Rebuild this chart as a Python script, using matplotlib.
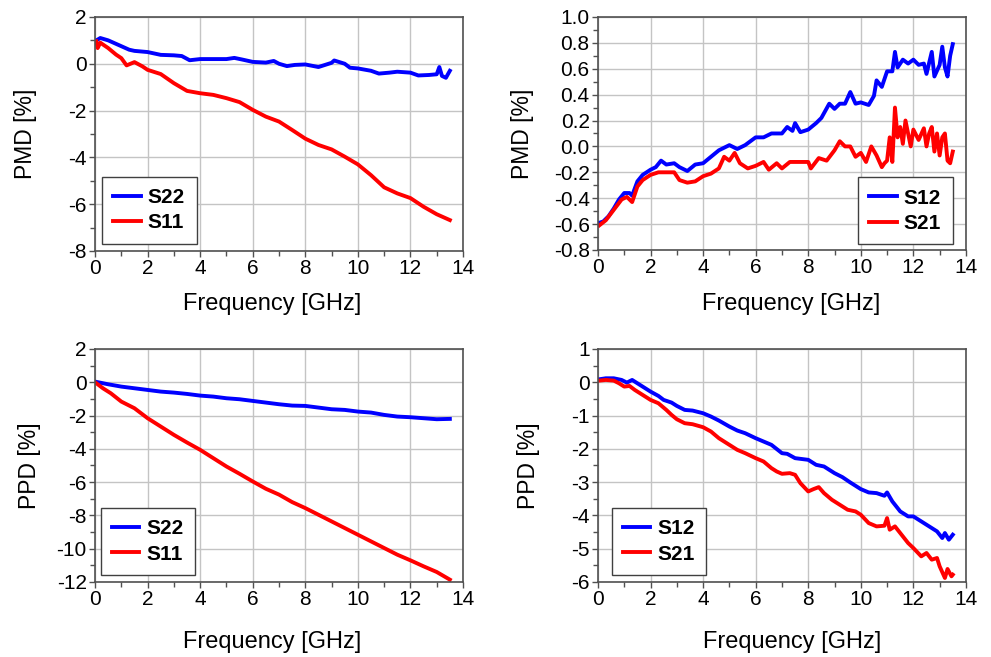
import matplotlib
matplotlib.use("Agg")
import matplotlib.pyplot as plt
from matplotlib.ticker import MultipleLocator, FormatStrFormatter

plt.rcParams["font.family"] = ["Liberation Sans", "DejaVu Sans"]
plt.rcParams["axes.unicode_minus"] = False

# ---------------- data ----------------
# top-left: PMD, S22 / S11
pmd_s22_f = [0.05, 0.2, 0.5, 1.0, 1.3, 1.5, 2.0, 2.5, 3.0, 3.3, 3.6, 4.0, 4.5, 5.0,
             5.3, 5.6, 6.0, 6.5, 6.8, 7.0, 7.3, 7.6, 8.0, 8.5, 9.0, 9.1, 9.5, 9.7,
             10.0, 10.5, 10.8, 11.2, 11.5, 12.0, 12.3, 12.7, 13.0, 13.1, 13.2, 13.35, 13.5]
pmd_s22 = [1.0, 1.1, 1.0, 0.75, 0.6, 0.55, 0.5, 0.38, 0.36, 0.33, 0.15, 0.2, 0.2, 0.2,
           0.25, 0.18, 0.08, 0.05, 0.12, 0.0, -0.1, -0.05, -0.03, -0.14, 0.04, 0.14, 0.0, -0.17,
           -0.2, -0.3, -0.42, -0.38, -0.34, -0.38, -0.5, -0.48, -0.45, -0.14, -0.52, -0.6, -0.3]
pmd_s11_f = [0.05, 0.1, 0.2, 0.5, 0.8, 1.0, 1.2, 1.5, 1.8, 2.0, 2.5, 3.0, 3.5, 4.0,
             4.5, 5.0, 5.5, 6.0, 6.5, 7.0, 7.5, 8.0, 8.5, 9.0, 9.5, 10.0, 10.5, 11.0,
             11.5, 12.0, 12.5, 13.0, 13.5]
pmd_s11 = [0.96, 0.67, 0.9, 0.67, 0.39, 0.24, -0.07, 0.07, -0.11, -0.26, -0.44, -0.83, -1.16, -1.26,
           -1.33, -1.47, -1.64, -1.97, -2.26, -2.47, -2.83, -3.2, -3.47, -3.66, -3.97, -4.3, -4.76, -5.28,
           -5.54, -5.74, -6.11, -6.43, -6.68]

# top-right: PMD, S12 / S21
pmd_s12_f = [0.05, 0.2, 0.4, 0.6, 0.8, 1.0, 1.2, 1.3, 1.5, 1.7, 2.0, 2.2, 2.4, 2.6, 2.9,
             3.1, 3.4, 3.7, 4.0, 4.3, 4.6, 5.0, 5.3, 5.6, 6.0, 6.3, 6.6, 7.0, 7.2, 7.4,
             7.5, 7.7, 8.0, 8.3, 8.5, 8.8, 9.0, 9.2, 9.4, 9.6, 9.8, 10.0, 10.3, 10.5, 10.6,
             10.8, 11.0, 11.2, 11.3, 11.4, 11.6, 11.8, 12.0, 12.2, 12.4, 12.5, 12.7, 12.8,
             13.0, 13.1, 13.2, 13.3, 13.4, 13.5]
pmd_s12 = [-0.59, -0.58, -0.54, -0.48, -0.41, -0.36, -0.36, -0.38, -0.27, -0.22, -0.18, -0.16, -0.11, -0.14, -0.13,
           -0.16, -0.19, -0.14, -0.13, -0.08, -0.03, 0.01, -0.02, 0.01, 0.07, 0.07, 0.1, 0.1, 0.15, 0.12,
           0.18, 0.11, 0.13, 0.18, 0.22, 0.33, 0.29, 0.33, 0.33, 0.42, 0.33, 0.34, 0.32, 0.39, 0.51,
           0.46, 0.58, 0.58, 0.73, 0.61, 0.67, 0.64, 0.67, 0.63, 0.64, 0.56, 0.73, 0.54,
           0.63, 0.77, 0.61, 0.54, 0.7, 0.79]
pmd_s21_f = [0.05, 0.3, 0.6, 0.9, 1.1, 1.3, 1.5, 1.7, 2.0, 2.3, 2.6, 2.9, 3.1, 3.4, 3.7,
             4.0, 4.3, 4.6, 4.8, 5.0, 5.2, 5.4, 5.7, 6.0, 6.3, 6.5, 6.8, 7.0, 7.3, 7.6,
             8.0, 8.1, 8.4, 8.7, 9.0, 9.2, 9.4, 9.6, 9.8, 10.0, 10.2, 10.4, 10.6, 10.8,
             10.9, 11.0, 11.1, 11.2, 11.3, 11.4, 11.5, 11.6, 11.7, 11.9, 12.0, 12.2, 12.4,
             12.5, 12.6, 12.7, 12.8, 12.9, 13.0, 13.1, 13.2, 13.3, 13.4, 13.5]
pmd_s21 = [-0.61, -0.57, -0.49, -0.41, -0.39, -0.43, -0.31, -0.26, -0.22, -0.2, -0.2, -0.2, -0.26, -0.28, -0.27,
           -0.23, -0.21, -0.17, -0.08, -0.11, -0.05, -0.13, -0.17, -0.15, -0.12, -0.18, -0.13, -0.17, -0.12, -0.12,
           -0.12, -0.17, -0.09, -0.11, -0.03, 0.04, 0.0, 0.0, -0.08, -0.05, -0.12, 0.0, -0.07, -0.16,
           -0.13, -0.11, 0.07, -0.12, 0.3, 0.07, 0.15, 0.02, 0.2, 0.0, 0.13, 0.05, 0.14,
           0.0, 0.1, 0.15, -0.04, 0.1, -0.07, 0.07, 0.1, -0.11, -0.13, -0.04]

# bottom-left: PPD, S22 / S11
ppd_s22_f = [0.0, 0.5, 1.0, 1.5, 2.0, 2.5, 3.0, 3.5, 4.0, 4.5, 5.0, 5.5, 6.0, 6.5,
             7.0, 7.5, 8.0, 8.5, 9.0, 9.5, 10.0, 10.5, 11.0, 11.5, 12.0, 12.5, 13.0, 13.5]
ppd_s22 = [0.04, -0.12, -0.26, -0.36, -0.46, -0.56, -0.62, -0.7, -0.8, -0.86, -0.96, -1.02, -1.12, -1.22,
           -1.32, -1.4, -1.42, -1.52, -1.62, -1.66, -1.76, -1.82, -1.96, -2.06, -2.1, -2.16, -2.22, -2.2]
ppd_s11_f = [0.0, 0.3, 0.6, 1.0, 1.5, 2.0, 2.5, 3.0, 3.5, 4.0, 4.5, 5.0, 5.5, 6.0, 6.5,
             7.0, 7.5, 8.0, 8.5, 9.0, 9.5, 10.0, 10.5, 11.0, 11.5, 12.0, 12.5, 13.0, 13.5]
ppd_s11 = [0.0, -0.36, -0.66, -1.16, -1.56, -2.16, -2.66, -3.16, -3.62, -4.06, -4.56, -5.06, -5.5, -5.96, -6.4,
           -6.75, -7.2, -7.56, -7.96, -8.36, -8.76, -9.16, -9.56, -9.96, -10.36, -10.7, -11.06, -11.4, -11.86]

# bottom-right: PPD, S12 / S21
ppd_s12_f = [0.05, 0.3, 0.6, 0.9, 1.1, 1.3, 1.5, 1.8, 2.0, 2.3, 2.5, 2.8, 3.0, 3.3, 3.6,
             4.0, 4.3, 4.6, 5.0, 5.3, 5.6, 6.0, 6.3, 6.6, 7.0, 7.2, 7.5, 8.0, 8.3, 8.6,
             9.0, 9.3, 9.6, 10.0, 10.3, 10.6, 10.9, 11.0, 11.2, 11.5, 11.8, 12.0, 12.3,
             12.6, 12.9, 13.1, 13.2, 13.35, 13.5]
ppd_s12 = [0.09, 0.12, 0.12, 0.07, -0.01, 0.07, -0.03, -0.18, -0.28, -0.41, -0.53, -0.61, -0.71, -0.83, -0.85,
           -0.93, -1.03, -1.15, -1.33, -1.45, -1.53, -1.68, -1.78, -1.88, -2.13, -2.15, -2.28, -2.33, -2.48, -2.53,
           -2.73, -2.85, -3.01, -3.21, -3.31, -3.33, -3.41, -3.31, -3.58, -3.88, -4.03, -4.03, -4.18,
           -4.33, -4.48, -4.68, -4.53, -4.73, -4.58]
ppd_s21_f = [0.05, 0.3, 0.6, 0.8, 1.0, 1.2, 1.4, 1.7, 2.0, 2.3, 2.6, 2.8, 3.0, 3.3, 3.6,
             4.0, 4.3, 4.6, 5.0, 5.3, 5.6, 6.0, 6.3, 6.6, 6.8, 7.0, 7.3, 7.5, 7.7, 8.0,
             8.2, 8.4, 8.6, 8.9, 9.2, 9.5, 9.8, 10.0, 10.3, 10.6, 10.9, 11.0, 11.1, 11.3,
             11.5, 11.8, 12.0, 12.3, 12.5, 12.7, 12.9, 13.0, 13.2, 13.3, 13.45, 13.5]
ppd_s21 = [0.05, 0.07, 0.05, -0.03, -0.13, -0.11, -0.23, -0.38, -0.53, -0.63, -0.83, -0.98, -1.11, -1.23, -1.26,
           -1.35, -1.48, -1.68, -1.88, -2.03, -2.13, -2.28, -2.38, -2.58, -2.68, -2.75, -2.73, -2.78, -3.03, -3.28,
           -3.21, -3.15, -3.33, -3.53, -3.68, -3.83, -3.88, -3.98, -4.23, -4.33, -4.31, -4.08, -4.43, -4.33,
           -4.53, -4.83, -4.98, -5.23, -5.13, -5.33, -5.28, -5.53, -5.88, -5.61, -5.83, -5.78]

BLUE, RED = "#0000ff", "#ff0000"
SPINE = "#505050"


def style_axes(ax, ylim, ymajor, yfmt, ylabel, ylab_x, xlab_x, xlab_y):
    ax.set_xlim(0, 14)
    ax.set_ylim(*ylim)
    ax.xaxis.set_major_locator(MultipleLocator(2))
    ax.xaxis.set_minor_locator(MultipleLocator(1))
    ax.yaxis.set_major_locator(MultipleLocator(ymajor))
    ax.yaxis.set_minor_locator(MultipleLocator(ymajor / 2))
    ax.yaxis.set_major_formatter(FormatStrFormatter(yfmt))
    ax.grid(True, which="major", color="#c4c4c4", lw=1.0)
    ax.set_axisbelow(True)
    for s in ax.spines.values():
        s.set_color(SPINE)
        s.set_linewidth(1.2)
    ax.tick_params(which="major", direction="out", length=4, width=1,
                   color=SPINE, labelsize=15, pad=2)
    ax.tick_params(which="minor", direction="out", length=3.5, width=1, color=SPINE)
    ax.set_xlabel("Frequency [GHz]", fontsize=17)
    ax.set_ylabel(ylabel, fontsize=16.5)
    ax.xaxis.set_label_coords(xlab_x, xlab_y)
    ax.xaxis.label.set_va("center")
    ax.yaxis.set_label_coords(ylab_x, 0.5)
    ax.yaxis.label.set_va("center")


def add_legend(ax, loc, anchor):
    leg = ax.legend(loc=loc, bbox_to_anchor=anchor, fancybox=False, framealpha=1,
                    edgecolor="#404040", prop={"weight": "bold", "size": 15},
                    handlelength=1.3, handletextpad=0.35, labelspacing=0.3,
                    borderpad=0.55, borderaxespad=0)
    leg.get_frame().set_linewidth(1.0)


fig = plt.figure(figsize=(9.91, 6.57), dpi=100)
ax_tl = fig.add_axes([0.0959, 0.618, 0.3713, 0.3562])
ax_tr = fig.add_axes([0.6034, 0.6195, 0.3713, 0.3547])
ax_bl = fig.add_axes([0.0959, 0.1142, 0.3713, 0.3546])
ax_br = fig.add_axes([0.6034, 0.1142, 0.3713, 0.3546])

lw = 2.8
ax_tl.plot(pmd_s22_f, pmd_s22, color=BLUE, lw=lw, label="S22")
ax_tl.plot(pmd_s11_f, pmd_s11, color=RED, lw=lw, label="S11")
style_axes(ax_tl, (-8, 2), 2, "%d", "PMD [%]", -0.19, 0.48, -0.226)
add_legend(ax_tl, "lower left", (0.019, 0.03))

ax_tr.plot(pmd_s12_f, pmd_s12, color=BLUE, lw=lw, label="S12")
ax_tr.plot(pmd_s21_f, pmd_s21, color=RED, lw=lw, label="S21")
style_axes(ax_tr, (-0.8, 1.0), 0.2, "%.1f", "PMD [%]", -0.204, 0.526, -0.23)
add_legend(ax_tr, "lower right", (0.964, 0.024))

ax_bl.plot(ppd_s22_f, ppd_s22, color=BLUE, lw=lw, label="S22")
ax_bl.plot(ppd_s11_f, ppd_s11, color=RED, lw=lw, label="S11")
style_axes(ax_bl, (-12, 2), 2, "%d", "PPD [%]", -0.177, 0.48, -0.256)
add_legend(ax_bl, "lower left", (0.016, 0.03))

ax_br.plot(ppd_s12_f, ppd_s12, color=BLUE, lw=lw, label="S12")
ax_br.plot(ppd_s21_f, ppd_s21, color=RED, lw=lw, label="S21")
style_axes(ax_br, (-6, 1), 1, "%d", "PPD [%]", -0.19, 0.528, -0.256)
add_legend(ax_br, "lower left", (0.037, 0.03))

fig.savefig("out.png", dpi=100)
